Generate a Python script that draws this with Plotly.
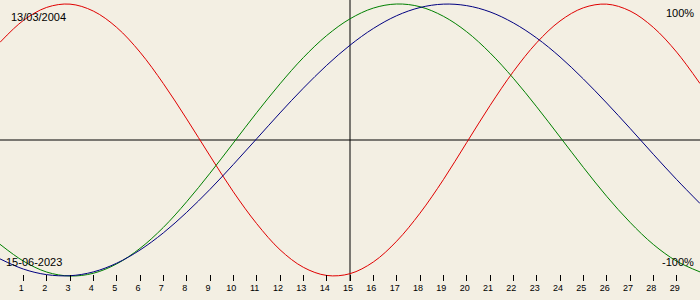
import plotly.graph_objects as go

days = list(range(0, 31))
tick_days = list(range(1, 30))
tick_labels = [str(d) for d in tick_days]

physical = [71.8, 87.9, 97.5, 99.9, 94.8, 82.8, 64.6, 41.5, 15.5, -11.7,
            -38.1, -61.5, -80.7, -93.6, -99.6, -98.3, -89.7, -74.4, -53.8, -29.2,
            -1.9, 25.3, 50.3, 71.5, 87.5, 97.2, 99.9, 94.9, 82.8, 64.6, 41.5]
emotional = [-76.7, -89.0, -97.1, -100.0, -98.0, -91.1, -79.7, -64.3, -45.4, -24.4,
             -2.2, 20.1, 41.3, 60.6, 76.8, 89.1, 97.0, 100.0, 98.0, 91.0,
             79.6, 64.1, 45.4, 24.4, 2.2, -20.1, -41.4, -60.5, -76.8, -89.1, -97.0]
intellectual = [-87.4, -94.9, -99.0, -99.8, -97.0, -90.6, -80.9, -68.3, -53.2, -36.3,
                -18.0, 0.9, 19.9, 38.1, 54.9, 69.7, 82.0, 91.4, 97.4, 99.9,
                98.8, 94.2, 86.1, 75.0, 61.1, 44.9, 27.2, 8.6, -10.5, -29.1, -46.7]

start_label = "13/03/2004"
end_label = "15-06-2023"
top_label = "100%"
bottom_label = "-100%"
today_day = 15

BG = "#f3efe3"
FONT = "Liberation Sans"

fig = go.Figure()
fig.add_trace(go.Scatter(x=days, y=physical, mode="lines", line=dict(color="#e00000", width=1, shape="spline"), hoverinfo="skip"))
fig.add_trace(go.Scatter(x=days, y=emotional, mode="lines", line=dict(color="#008000", width=1, shape="spline"), hoverinfo="skip"))
fig.add_trace(go.Scatter(x=days, y=intellectual, mode="lines", line=dict(color="#000080", width=1, shape="spline"), hoverinfo="skip"))

fig.add_shape(type="line", xref="x", yref="paper", x0=today_day, x1=today_day, y0=0, y1=1,
              line=dict(color="black", width=1), layer="below")
fig.add_shape(type="line", xref="paper", yref="y", x0=0, x1=1, y0=0, y1=0,
              line=dict(color="black", width=1), layer="below")

H = 281.0
def py(px):
    return 1 - px / H

annots = [
    dict(text=start_label, x=9 / 700, y=py(17), xanchor="left"),
    dict(text=end_label, x=4 / 700, y=py(262), xanchor="left"),
    dict(text=top_label, x=696 / 700, y=py(13), xanchor="right"),
    dict(text=bottom_label, x=696 / 700, y=py(262), xanchor="right"),
]
for a in annots:
    fig.add_annotation(text=a["text"], x=a["x"], y=a["y"], xref="paper", yref="paper",
                       xanchor=a["xanchor"], yanchor="middle", showarrow=False,
                       font=dict(family=FONT, size=11, color="black"))

fig.update_layout(
    width=700, height=300,
    margin=dict(l=0, r=0, t=0, b=19, pad=0),
    paper_bgcolor=BG, plot_bgcolor=BG,
    showlegend=False,
    xaxis=dict(range=[0, 30], tickvals=tick_days, ticktext=tick_labels,
               ticks="inside", ticklen=6, tickwidth=1, tickcolor="black",
               ticklabelshift=-2,
               showgrid=False, zeroline=False, showline=False,
               tickfont=dict(family=FONT, size=9, color="black"), fixedrange=True),
    yaxis=dict(range=[-103.68, 102.94], showticklabels=False, showgrid=False,
               zeroline=False, showline=False, ticks="", fixedrange=True),
)

fig.write_html("out.html", config={"displayModeBar": False})
